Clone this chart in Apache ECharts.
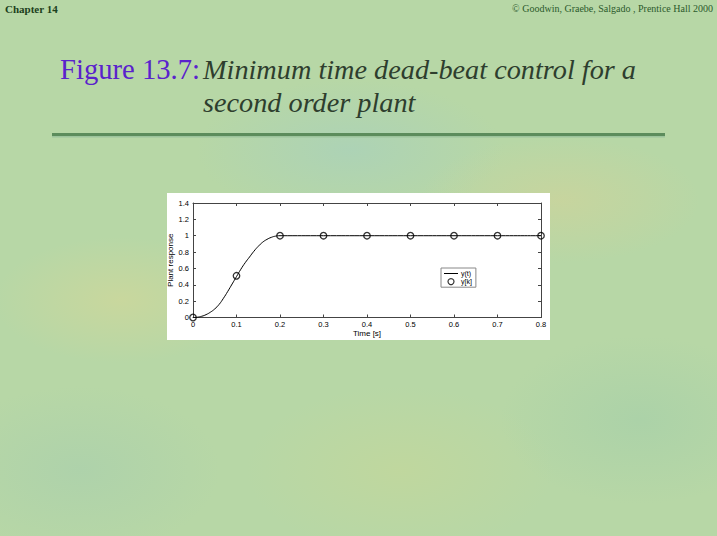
<!DOCTYPE html>
<html><head><meta charset="utf-8">
<script src="https://cdn.jsdelivr.net/npm/echarts@6/dist/echarts.min.js"></script>
<style>
html,body{margin:0;padding:0;}
body{width:717px;height:536px;overflow:hidden;position:relative;
background:
radial-gradient(ellipse 180px 90px at 120px 300px, rgba(215,215,150,0.55), rgba(215,215,150,0) 70%),
radial-gradient(ellipse 200px 90px at 560px 200px, rgba(215,210,150,0.5), rgba(215,210,150,0) 70%),
radial-gradient(ellipse 220px 100px at 350px 150px, rgba(160,205,200,0.45), rgba(160,205,200,0) 70%),
radial-gradient(ellipse 220px 120px at 400px 470px, rgba(200,215,150,0.5), rgba(200,215,150,0) 70%),
radial-gradient(ellipse 200px 120px at 80px 470px, rgba(165,205,175,0.5), rgba(165,205,175,0) 70%),
radial-gradient(ellipse 200px 120px at 640px 420px, rgba(160,205,170,0.5), rgba(160,205,170,0) 70%),
#b7d7a6;}
#c{position:absolute;left:0;top:0;width:717px;height:536px;}
.t{position:absolute;white-space:nowrap;line-height:1em;font-family:'Liberation Serif',serif;transform-origin:0 0;z-index:2;}
#fig{left:60px;top:55px;font-size:29px;color:#5a22cc;}
#l1{left:203px;top:56.5px;font-size:27px;font-style:italic;color:#2e3e2e;}
#l2{left:203px;top:89.5px;font-size:27px;font-style:italic;color:#2e3e2e;}
#ch{left:5px;top:4px;font-size:11px;font-weight:bold;color:#1c401c;}
#cp{right:4px;top:4px;font-size:10px;color:#2c5a2c;}
</style></head>
<body>
<div id="c"></div>
<div class="t" id="ch">Chapter 14</div>
<div class="t" id="cp">© Goodwin, Graebe, Salgado , Prentice Hall 2000</div>
<div class="t" id="fig">Figure 13.7:</div>
<div class="t" id="l1">Minimum time dead-beat control for a</div>
<div class="t" id="l2">second order plant</div>
<script>
// continuous response y(t)
const tCont = [0,0.01,0.02,0.03,0.04,0.05,0.06,0.07,0.08,0.09,0.1,0.11,0.12,0.13,0.14,0.15,0.16,0.17,0.18,0.19,0.2,0.3,0.4,0.5,0.6,0.7,0.8];
const yCont = [0,0.004,0.015,0.035,0.065,0.105,0.16,0.235,0.32,0.41,0.5,0.59,0.67,0.74,0.81,0.87,0.92,0.955,0.98,0.995,1.0,1,1,1,1,1,1];
// sampled response y[k]
const tSamp = [0,0.1,0.2,0.3,0.4,0.5,0.6,0.7,0.8];
const ySamp = [0,0.51,1,1,1,1,1,1,1];
const xTicks = {min:0,max:0.8,interval:0.1};
const yTicks = {min:0,max:1.4,interval:0.2};

// fit title widths to the slide layout
function fitW(id, w){ const e=document.getElementById(id); const s=w/e.getBoundingClientRect().width; e.style.transform='scaleX('+s+')'; return s; }
fitW('fig',140);
const s1 = fitW('l1',433);
document.getElementById('l2').style.transform='scaleX('+s1+')';

const chart = echarts.init(document.getElementById('c'), null, {renderer:'svg'});
const axisFont = {fontFamily:'Liberation Sans', fontSize:7.5, color:'#000'};
const G = {left:193, top:203, width:348, height:114.5};
chart.setOption({
  animation:false,
  backgroundColor:'transparent',
  graphic:[
    {type:'rect', shape:{x:167,y:193,width:383,height:147}, style:{fill:'#ffffff'}, z:-10},
    {type:'rect', shape:{x:52,y:133,width:613,height:3}, style:{fill:'#5c8c5c'}},
    {type:'rect', shape:{x:52,y:136,width:613,height:1.5}, style:{fill:'#9cc49c'}}
  ],
  grid:{left:G.left, top:G.top, width:G.width, height:G.height, show:false},
  xAxis:[
    {type:'value', ...xTicks, position:'bottom', name:'Time [s]', nameLocation:'middle', nameGap:9,
     nameTextStyle:{...axisFont, fontSize:8},
     axisLine:{show:true,onZero:false,lineStyle:{color:'#444',width:1}},
     axisTick:{show:true,inside:true,length:3,lineStyle:{color:'#444'}},
     axisLabel:{...axisFont, margin:3}, splitLine:{show:false}},
    {type:'value', ...xTicks, position:'top',
     axisLine:{show:true,onZero:false,lineStyle:{color:'#444',width:1}},
     axisTick:{show:true,inside:true,length:3,lineStyle:{color:'#444'}},
     axisLabel:{show:false}, splitLine:{show:false}}
  ],
  yAxis:[
    {type:'value', ...yTicks, position:'left', name:'Plant response', nameLocation:'middle', nameGap:14,
     nameTextStyle:{...axisFont, fontSize:8},
     axisLine:{show:true,onZero:false,lineStyle:{color:'#444',width:1}},
     axisTick:{show:true,inside:true,length:3,lineStyle:{color:'#444'}},
     axisLabel:{...axisFont, margin:4}, splitLine:{show:false}},
    {type:'value', ...yTicks, position:'right',
     axisLine:{show:true,onZero:false,lineStyle:{color:'#444',width:1}},
     axisTick:{show:true,inside:true,length:3,lineStyle:{color:'#444'}},
     axisLabel:{show:false}, splitLine:{show:false}}
  ],
  legend:{
    left:441, top:268, orient:'vertical', itemGap:1, itemWidth:14, itemHeight:6,
    padding:[2,4,2,3], backgroundColor:'#fff', borderColor:'#888', borderWidth:1, borderRadius:0,
    textStyle:{...axisFont, fontSize:7, padding:[0,0,0,-2]},
    data:[{name:'y(t)', icon:'path://M0,5L14,5L14,6L0,6Z'}, {name:'y[k]', icon:'circle', itemStyle:{color:'#fff',borderColor:'#000',borderWidth:1.2}}]
  },
  series:[
    {name:'y(t)', type:'line', data:tCont.map((t,i)=>[t,yCont[i]]), smooth:true, showSymbol:false,
     lineStyle:{color:'#000', width:1}, itemStyle:{color:'#000'}},
    {name:'y[k]', type:'scatter', data:tSamp.map((t,i)=>[t,ySamp[i]]), symbol:'circle', symbolSize:6.5,
     itemStyle:{color:'rgba(255,255,255,0)', borderColor:'#000', borderWidth:1.3}}
  ]
});
</script></body></html>
